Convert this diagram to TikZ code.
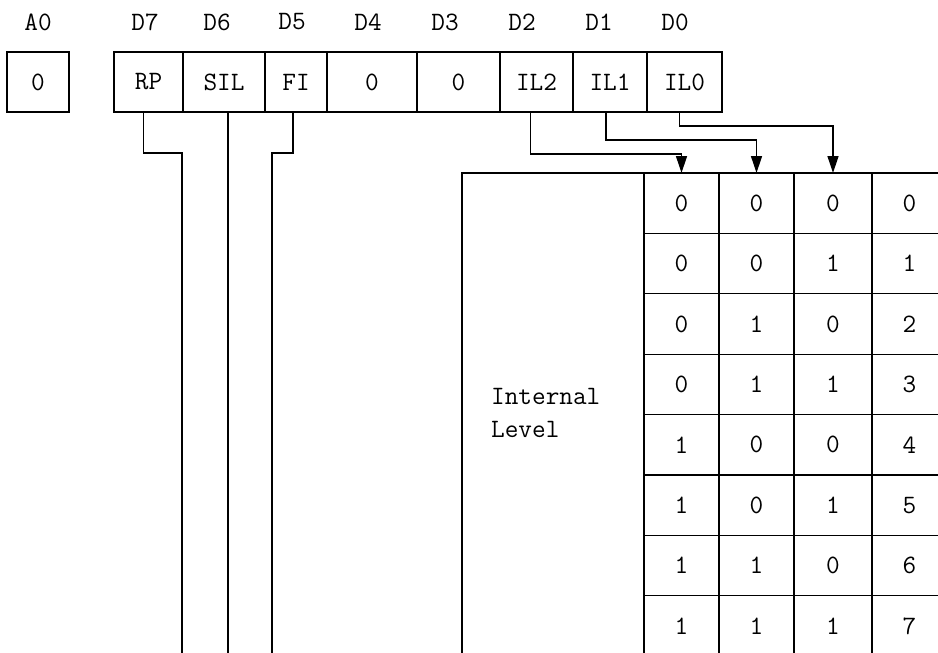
\documentclass[tikz,border=0pt]{standalone}
\usepackage{fontspec}
\usetikzlibrary{arrows.meta, positioning, calc}
\newcommand{\regtt}{\fontsize{26.5}{33}\selectfont\ttfamily}

\begin{document}
\begin{tikzpicture}[
    x=1pt, y=-1pt,
    every node/.style={font=\regtt},
    cell/.style={draw, line width=1.3pt, inner sep=0pt, outer sep=0pt,
                 minimum height=60pt, minimum width=#1},
    bitlabel/.style={inner sep=0pt},
    wire/.style={draw, line width=1.3pt},
    arr/.style={wire, -{Triangle[length=17pt, width=11pt]}}
]
\useasboundingbox (0,0) rectangle (938,653);
\clip (0,0) rectangle (938,653);

% Register cells
\node[cell=62pt] (A0)  at (38,82)    {0};
\node[cell=69pt] (RP)  at (148.5,82) {RP};
\node[cell=82pt] (SIL) at (224,82)   {SIL};
\node[cell=62pt] (FI)  at (296,82)   {FI};
\node[cell=90pt] (Z4)  at (372,82)   {0};
\node[cell=83pt] (Z3)  at (458.5,82) {0};
\node[cell=73pt] (IL2) at (536.5,82) {IL2};
\node[cell=74pt] (IL1) at (610,82)   {IL1};
\node[cell=75pt] (IL0) at (684.5,82) {IL0};

% Bit labels
\node[bitlabel] (lA0) at (38,22)  {A0};
\node[bitlabel] (lD7) at (145,22) {D7};
\node[bitlabel] (lD6) at (217,22) {D6};
\node[bitlabel] (lD5) at (292,22) {D5};
\node[bitlabel] (lD4) at (368,22) {D4};
\node[bitlabel] (lD3) at (445,22) {D3};
\node[bitlabel] (lD2) at (522,22) {D2};
\node[bitlabel] (lD1) at (599,22) {D1};
\node[bitlabel] (lD0) at (675,22) {D0};

% Level table
\foreach \a/\b/\c [count=\r from 0] in {0/0/0, 0/0/1, 0/1/0, 0/1/1, 1/0/0, 1/0/1, 1/1/0, 1/1/1} {
  \node[cell=75pt, minimum height=60.4pt] (c1\r) at (681.5,{203.2+60.4*\r}) {\a};
  \node[cell=75pt, minimum height=60.4pt] (c2\r) at (756.5,{203.2+60.4*\r}) {\b};
  \node[cell=78pt, minimum height=60.4pt] (c3\r) at (833,{203.2+60.4*\r})   {\c};
  \node[cell=75pt, minimum height=60.4pt] (c4\r) at (909.5,{203.2+60.4*\r}) {\r};
}
\node[bitlabel, align=left, anchor=west] (lvl) at (491,413) {Internal\\Level};

% Frame of the table
\coordinate (frameTR) at (938,173);
\coordinate (frameBL) at (462,653);
\draw[wire] (frameTR) -- (frameTR -| frameBL) -- (frameBL);

% Wires going down
\coordinate (rpEnd)  at (182,653);
\coordinate (silEnd) at (228,653);
\coordinate (fiEnd)  at (272,653);
\draw[wire] ([xshift=-5pt]RP.south) -- ++(0,41) -| (rpEnd);
\draw[wire] (SIL.south -| silEnd) -- (silEnd);
\draw[wire] ([xshift=-3pt]FI.south) -- ++(0,41) -| (fiEnd);

% Arrows into the table
\draw[arr] ([xshift=-6pt]IL2.south) -- ++(0,42) -| (c10.north);
\draw[arr] ([xshift=-4pt]IL1.south) -- ++(0,28) -| (c20.north);
\draw[arr] ([xshift=-5pt]IL0.south) -- ++(0,14) -| (c30.north);
\end{tikzpicture}
\end{document}
